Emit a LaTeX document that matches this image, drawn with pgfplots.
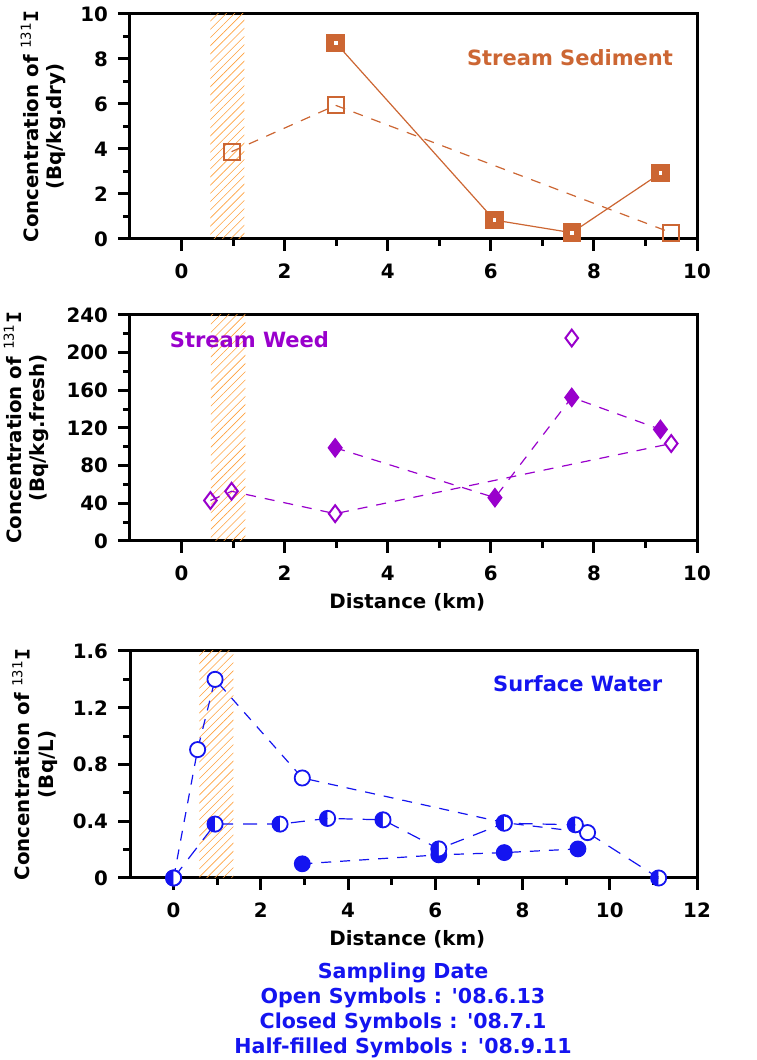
\documentclass[border=0pt]{standalone}
\usepackage{fontspec}
\setmainfont{DejaVu Sans}
\setmonofont{DejaVu Sans Mono}
\usepackage{pgfplots}
\pgfplotsset{compat=1.18}
\usetikzlibrary{patterns.meta,plotmarks}
\definecolor{sed}{RGB}{204,102,51}
\definecolor{weed}{RGB}{153,0,204}
\definecolor{wat}{RGB}{20,20,240}
\definecolor{hatch}{RGB}{255,160,60}
\pgfplotsset{
  panel/.style={
    scale only axis, width=283.5pt,
    axis line style={line width=1.5pt},
    every tick/.style={line width=1.5pt, black},
    major tick length=6pt, minor tick length=3.5pt,
    tick align=outside,
    xtick pos=bottom, ytick pos=left,
    minor x tick num=1, minor y tick num=1,
    tick label style={font=\bfseries\fontsize{9.9}{11}\selectfont},
    xticklabel style={yshift=-3pt},
    yticklabel style={xshift=-1.5pt},
    /pgf/number format/assume math mode=true,
    label style={font=\bfseries\fontsize{9.9}{11.8}\selectfont},
    ylabel style={align=center, anchor=center},
    xlabel style={anchor=center, at={(axis description cs:0.489,-0.27)}},
    xmin=-1, clip=false,
  },
  dl/.style={line width=0.6pt, dash pattern=on 5pt off 4.5pt},
  sl/.style={line width=0.6pt},
  hatchfill/.style={draw=none, pattern={Lines[angle=45, distance=2.9pt, line width=0.3pt]}, pattern color=hatch},
}
\newcommand{\lab}[1]{Concentration of \textsuperscript{\ttfamily\mdseries 131}{\ttfamily I}\\(#1)}
\begin{document}
\begin{tikzpicture}
\path[use as bounding box] (0,0) rectangle (378pt,530pt);
% ---------------- Panel 1 ----------------
\begin{axis}[panel, at={(65pt,410.5pt)}, anchor=south west, height=112.5pt,
  xmax=10, ymin=0, ymax=10, xtick={0,2,...,10}, ytick={0,2,...,10},
  ylabel={\lab{Bq/kg.dry}},
  ylabel style={at={(axis description cs:-0.153,0.5)}}]
\addplot[hatchfill] coordinates {(0.56,0) (0.56,10) (1.22,10) (1.22,0)} -- cycle;
\addplot[sed, sl, mark=square*, mark size=4.3pt, mark options={solid, fill=sed}] coordinates {(2.99,8.72) (6.07,0.84) (7.57,0.28) (9.29,2.92)};
\addplot[only marks, white, mark=square*, mark size=0.7pt] coordinates {(2.99,8.72) (6.07,0.84) (7.57,0.28) (9.29,2.92)};
\addplot[sed, dl, mark=square, mark size=4pt, mark options={solid, fill=white, line width=1pt}] coordinates {(0.97,3.88) (2.99,5.94) (9.5,0.28)};
\node[anchor=east, text=sed, font=\bfseries\fontsize{10.5}{12}\selectfont] at (axis description cs:0.97,0.804) {Stream Sediment};
\end{axis}
% ---------------- Panel 2 ----------------
\begin{axis}[panel, at={(65pt,259.5pt)}, anchor=south west, height=113pt,
  xmax=10, ymin=0, ymax=240, xtick={0,2,...,10}, ytick={0,40,...,240},
  xlabel={Distance (km)},
  ylabel={\lab{Bq/kg.fresh}},
  ylabel style={at={(axis description cs:-0.183,0.5)}}]
\addplot[hatchfill] coordinates {(0.57,0) (0.57,240) (1.24,240) (1.24,0)} -- cycle;
\addplot[weed, dl, mark=diamond*, mark size=4.6pt, mark options={solid, fill=weed}] coordinates {(2.98,99) (6.08,46) (7.57,152.5) (9.29,118.5)};
\addplot[weed, dl, mark=diamond, mark size=4.2pt, mark options={solid, fill=white, line width=1pt}] coordinates {(0.56,43) (0.97,52.8) (2.98,29) (9.5,103.5)};
\addplot[only marks, weed, mark=diamond, mark size=4.2pt, mark options={solid, fill=white, line width=1pt}] coordinates {(7.57,215.5)};
\node[anchor=west, text=weed, font=\bfseries\fontsize{10.5}{12}\selectfont] at (axis description cs:0.058,0.889) {Stream Weed};
\end{axis}
% ---------------- Panel 3 ----------------
\begin{axis}[panel, at={(65pt,91pt)}, anchor=south west, height=113.5pt,
  xmax=12, ymin=0, ymax=1.6, xtick={0,2,...,12}, ytick={0,0.4,0.8,1.2,1.6},
  yticklabels={0,0.4,0.8,1.2,1.6},
  xlabel={Distance (km)},
  ylabel={\lab{Bq/L}},
  ylabel style={at={(axis description cs:-0.168,0.5)}}]
\addplot[hatchfill] coordinates {(0.59,0) (0.59,1.6) (1.37,1.6) (1.37,0)} -- cycle;
% open
\addplot[wat, dl, mark=*, mark size=3.8pt, mark options={solid, fill=white, line width=0.9pt}] coordinates {(0,0) (0.55,0.905) (0.95,1.40) (2.95,0.705) (7.58,0.39) (9.49,0.32)};
% closed
\addplot[wat, dl, mark=*, mark size=3.9pt, mark options={solid, fill=wat}] coordinates {(2.95,0.10) (6.08,0.163) (7.58,0.179) (9.27,0.205)};
% half-filled
\addplot[wat, line width=0.6pt, dash pattern=on 7pt off 5pt, mark=halfcircle*, mark size=3.8pt, mark options={solid, rotate=90, fill=wat, line width=0.9pt}] coordinates {(0,0) (0.95,0.38) (2.44,0.38) (3.53,0.42) (4.8,0.41) (6.08,0.205) (7.58,0.386) (9.21,0.375) (11.12,0)};
\node[anchor=east, text=wat, font=\bfseries\fontsize{10.5}{12}\selectfont] at (axis description cs:0.951,0.855) {Surface Water};
\end{axis}
\node[align=center, text=wat, font=\bfseries\fontsize{10.3}{12.5}\selectfont] at (201.5pt,24.75pt) {Sampling Date\\Open Symbols : \textquotesingle08.6.13\\Closed Symbols : \textquotesingle08.7.1\\Half-filled Symbols : \textquotesingle08.9.11};
\end{tikzpicture}
\end{document}
